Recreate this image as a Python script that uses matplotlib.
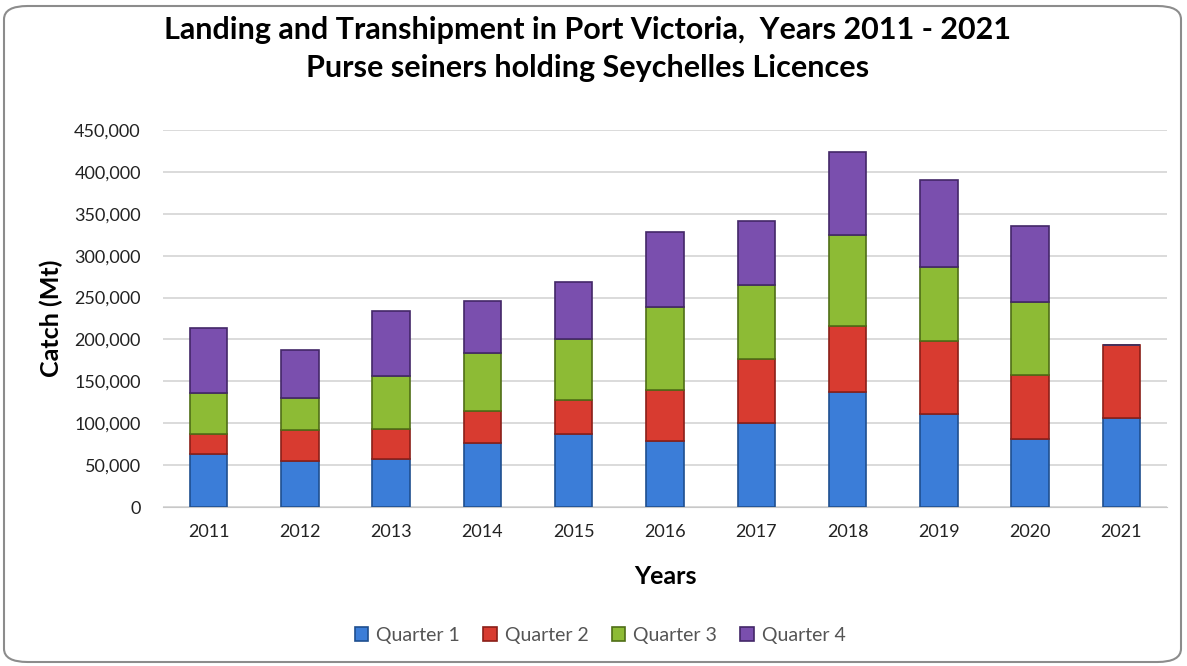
import matplotlib
matplotlib.use("Agg")
import matplotlib.pyplot as plt
from matplotlib.patches import FancyBboxPatch
from matplotlib.ticker import FuncFormatter
import numpy as np

years = ["2011", "2012", "2013", "2014", "2015", "2016", "2017", "2018", "2019", "2020", "2021"]
q1 = [63700, 55000, 57800, 76500, 86900, 78900, 100400, 137800, 111600, 81700, 106800]
q2 = [23900, 37400, 35800, 38200, 40600, 61300, 76500, 78100, 86000, 75300, 86800]
q3 = [48700, 38300, 63000, 68600, 72500, 98000, 87600, 108400, 89300, 87600, 0]
q4 = [77700, 56600, 77700, 62900, 68500, 90100, 77300, 99200, 103100, 90500, 0]

series = [("Quarter 1", q1, "#3b7dd8", "#1f4f8f"),
          ("Quarter 2", q2, "#d83b30", "#8a1f18"),
          ("Quarter 3", q3, "#8dbb35", "#4f6e17"),
          ("Quarter 4", q4, "#7a4fae", "#432768")]

plt.rcParams['font.family'] = ['Lato', 'DejaVu Sans']

fig = plt.figure(figsize=(11.87, 6.66), dpi=100)
W, H = 1187, 666

# rounded chart border
border = FancyBboxPatch((4 / W, 4 / H), 1 - 10 / W, 1 - 10 / H,
                        boxstyle="round,pad=0,rounding_size=0.02",
                        transform=fig.transFigure, facecolor="none",
                        edgecolor="#8c8c8c", linewidth=1.5, zorder=-1)
fig.patches.append(border)

ax = fig.add_axes([163 / W, 1 - 507 / H, (1167 - 163) / W, (507 - 130) / H])
ax.set_facecolor("none")

x = np.arange(len(years))
bottom = np.zeros(len(years))
handles = []
for name, vals, col, edge in series:
    vals = np.array(vals, dtype=float)
    b = ax.bar(x, vals, 0.41, bottom=bottom, color=col, edgecolor=edge,
               linewidth=1.2, label=name, zorder=3)
    handles.append(b)
    bottom += vals

ax.set_xlim(-0.5, len(years) - 0.5)
ax.set_ylim(0, 450000)
ax.set_yticks(np.arange(0, 450001, 50000))
ax.yaxis.set_major_formatter(FuncFormatter(lambda v, p: f"{int(v):,}"))
ax.set_xticks(x)
ax.set_xticklabels(years)
ax.grid(axis="y", color="#d4d4d4", linewidth=1.2, zorder=0)
for s in ["top", "right", "left"]:
    ax.spines[s].set_visible(False)
ax.spines["bottom"].set_color("#c8c8c8")
ax.tick_params(length=0, labelsize=13, colors="#222222")
ax.tick_params(axis="y", pad=16)
ax.tick_params(axis="x", pad=12)

ax.set_ylabel("Catch (Mt)", fontsize=18, fontweight="bold", labelpad=8)
ax.set_xlabel("Years", fontsize=18, fontweight="bold", labelpad=18)

fig.text(588 / W, 1 - 30 / H, "Landing and Transhipment in Port Victoria,  Years 2011 - 2021",
         ha="center", va="center", fontsize=22, fontweight="bold")
fig.text(588 / W, 1 - 68 / H, "Purse seiners holding Seychelles Licences",
         ha="center", va="center", fontsize=22, fontweight="bold")

fig.legend(handles=handles, labels=[s[0] for s in series], loc="center",
           bbox_to_anchor=(600 / W, 1 - 635 / H), ncol=4, frameon=False,
           fontsize=14, handlelength=0.7, handleheight=0.7, handletextpad=0.4,
           columnspacing=1.2, labelcolor="#555555")

fig.savefig("out.png", dpi=100)
